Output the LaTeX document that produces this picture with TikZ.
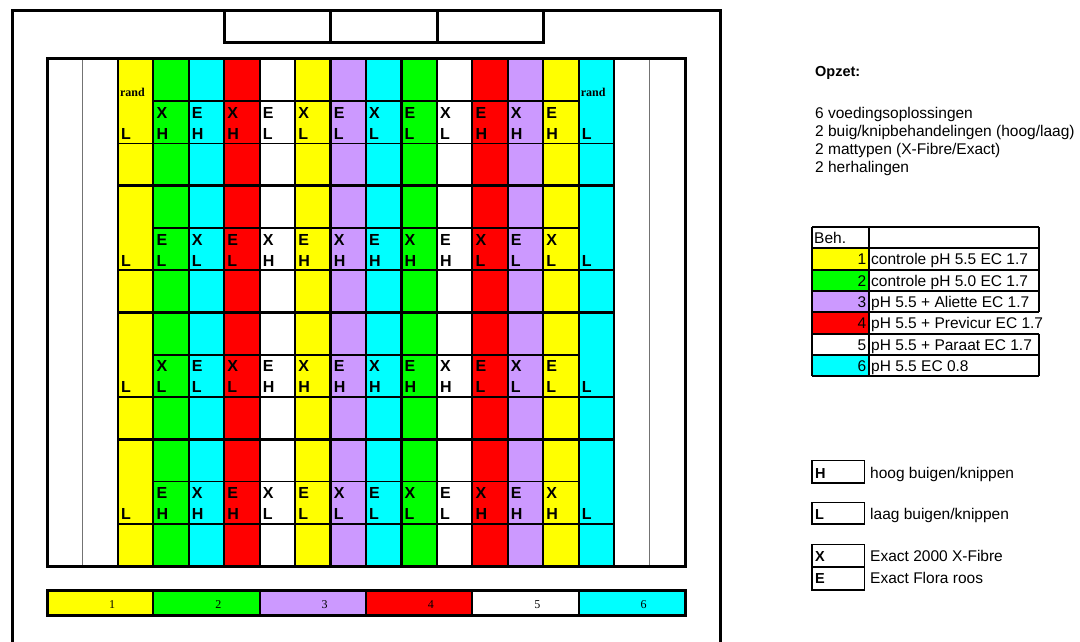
\documentclass[tikz,border=0pt]{standalone}
\usepackage{fontspec}
\setmainfont{Liberation Serif}
\setsansfont{Liberation Sans}
\usetikzlibrary{positioning}
\definecolor{geel}{RGB}{255,255,0}
\definecolor{groen}{RGB}{0,255,0}
\definecolor{cyaan}{RGB}{0,255,255}
\definecolor{rood}{RGB}{255,0,0}
\definecolor{paars}{RGB}{204,153,255}
\tikzset{
  kas/.style={line width=3pt},
  bedline/.style={line width=2.3pt},
  rowline/.style={line width=1.8pt},
  blockline/.style={line width=2.7pt},
  edgeline/.style={line width=1pt,black!55},
  tabline/.style={line width=2pt},
  legthin/.style={line width=1pt},
  legthick/.style={line width=2.4pt},
  code/.style={font=\sffamily\bfseries\fontsize{16}{16}\selectfont,inner sep=0pt,anchor=base west},
  legcode/.style={font=\sffamily\bfseries\fontsize{14.5}{15}\selectfont,inner sep=0pt,anchor=base west},
  randlbl/.style={font=\rmfamily\bfseries\fontsize{12}{12}\selectfont,inner sep=0pt,anchor=base west},
  txt/.style={font=\sffamily\fontsize{15.5}{16}\selectfont,inner sep=0pt,anchor=base west},
  barnum/.style={font=\rmfamily\fontsize{12}{12}\selectfont,inner sep=0pt,anchor=base},
}
\begin{document}
\begin{tikzpicture}[x=1pt,y=-1pt]
  \useasboundingbox (0,0) rectangle (1080,642);
  \def\colw{35.444}
  % kas
  \draw[kas] (12,642) -- (12,11) -- (720,11) -- (720,642);
  \draw[kas] (224,11) rectangle (543,43);
  \draw[kas] (330,11) -- (330,43) (437,11) -- (437,43);
  % bedden
  \foreach \clr [count=\i from 0] in {white,white,geel,groen,cyaan,rood,white,geel,paars,cyaan,groen,white,rood,paars,geel,cyaan,white,white}
    \fill[\clr] ({47+\i*\colw},59) rectangle ({47+(\i+1)*\colw},566);
  \foreach \b in {0,...,3}{
    \pgfmathsetmacro\yb{59+\b*126.75}
    \draw[rowline] ({47+3*\colw},\yb+42.25) -- ({47+15*\colw},\yb+42.25);
    \draw[rowline] ({47+2*\colw},\yb+84.5) -- ({47+16*\colw},\yb+84.5);
    \ifnum\b>0 \draw[blockline] ({47+2*\colw},\yb) -- ({47+16*\colw},\yb); \fi
  }
  \foreach \k in {2,...,15}
    \draw[bedline] ({47+\k*\colw},59) -- ({47+\k*\colw},566);
  \draw[rowline] ({47+16*\colw},59) -- ({47+16*\colw},566);
  \foreach \k in {1,17}
    \draw[edgeline] ({47+\k*\colw},59) -- ({47+\k*\colw},566);
  \draw[kas] (47,59) rectangle (685,566);
  % behandelingscodes
  \foreach \b/\cells in {0/{X/H,E/H,X/H,E/L,X/L,E/L,X/L,E/L,X/L,E/H,X/H,E/H},
                         1/{E/L,X/L,E/L,X/H,E/H,X/H,E/H,X/H,E/H,X/L,E/L,X/L},
                         2/{X/L,E/L,X/L,E/H,X/H,E/H,X/H,E/H,X/H,E/L,X/L,E/L},
                         3/{E/H,X/H,E/H,X/L,E/L,X/L,E/L,X/L,E/L,X/H,E/H,X/H}}{
    \foreach \t/\h [count=\c from 3] in \cells {
      \node[code] (mat-\b-\c) at ({47+\c*\colw+3},{59+\b*126.75+59.25}) {\t};
      \node[code] (hl-\b-\c) at ({47+\c*\colw+3},{59+\b*126.75+80.25}) {\h};
    }
    \foreach \c in {2,15}
      \node[code] (rand-\b-\c) at ({47+\c*\colw+3},{59+\b*126.75+80.25}) {L};
  }
  \node[randlbl] (randl) at ({47+2*\colw+2},96.5) {rand};
  \node[randlbl] (randr) at ({47+15*\colw+2},96.5) {rand};
  % kleurenbalk
  \foreach \clr [count=\n] in {geel,groen,paars,rood,white,cyaan}{
    \fill[\clr] ({47+(\n-1)*106.33},590) rectangle ({47+\n*106.33},615);
    \node[barnum] (bar-\n) at ({47+(\n-1)*106.33+65},608) {\n};
  }
  \foreach \n in {1,...,5}
    \draw[bedline] ({47+\n*106.33},590) -- ({47+\n*106.33},615);
  \draw[kas] (47,590) rectangle (685,615);
  % opzet
  \node[txt,font=\sffamily\bfseries\fontsize{14.5}{15}\selectfont] (opzet) at (815,76.7) {Opzet:};
  \node[txt] (opz1) at (815,118) {6 voedingsoplossingen};
  \node[txt] (opz2) at (815,136) {2 buig/knipbehandelingen (hoog/laag)};
  \node[txt] (opz3) at (815,154) {2 mattypen (X-Fibre/Exact)};
  \node[txt] (opz4) at (815,172) {2 herhalingen};
  % tabel behandelingen
  \foreach \clr [count=\r] in {geel,groen,paars,rood,white,cyaan}
    \fill[\clr] (812,{227+\r*21.3}) rectangle (869,{227+(\r+1)*21.3});
  \foreach \r in {0,...,7}
    \draw[tabline] (812,{227+\r*21.3}) -- (1039,{227+\r*21.3});
  \draw[tabline] (812,227) -- (812,376.1) (869,227) -- (869,376.1);
  \draw[tabline] (1039,227) -- (1039,312.2) (1039,333.5) -- (1039,376.1);
  \node[txt] (beh) at (814,243.5) {Beh.};
  \foreach \omschr [count=\r] in {controle pH 5.5 EC 1.7,controle pH 5.0 EC 1.7,
      pH 5.5 + Aliette EC 1.7,pH 5.5 + Previcur EC 1.7,
      pH 5.5 + Paraat EC 1.7,pH 5.5 EC 0.8}{
    \node[txt,anchor=base east] (nr-\r) at (866.5,{227+\r*21.3+16.5}) {\r};
    \node[txt] (oms-\r) at (871,{227+\r*21.3+16.5}) {\omschr};
  }
  % legenda
  \draw[legthin] (812,460) rectangle (864,483);
  \draw[legthick] (812,460) -- (812,483) -- (864,483);
  \draw[legthin] (812,502) rectangle (864,524);
  \draw[legthick] (812,502) -- (812,524) -- (864,524);
  \draw[legthin] (812,544) rectangle (864,590);
  \draw[legthick] (812,544) -- (812,590) -- (864,590);
  \draw[legthin,line width=1.6pt] (812,567) -- (864,567);
  \node[legcode] (lh) at (815,478) {H};
  \node[legcode] (ll) at (815,519) {L};
  \node[legcode] (lx) at (815,561) {X};
  \node[legcode] (le) at (815,583) {E};
  \node[txt] (th) at (870,478) {hoog buigen/knippen};
  \node[txt] (tl) at (870,519) {laag buigen/knippen};
  \node[txt] (tx) at (870,561) {Exact 2000 X-Fibre};
  \node[txt] (te) at (870,583) {Exact Flora roos};
\end{tikzpicture}
\end{document}
